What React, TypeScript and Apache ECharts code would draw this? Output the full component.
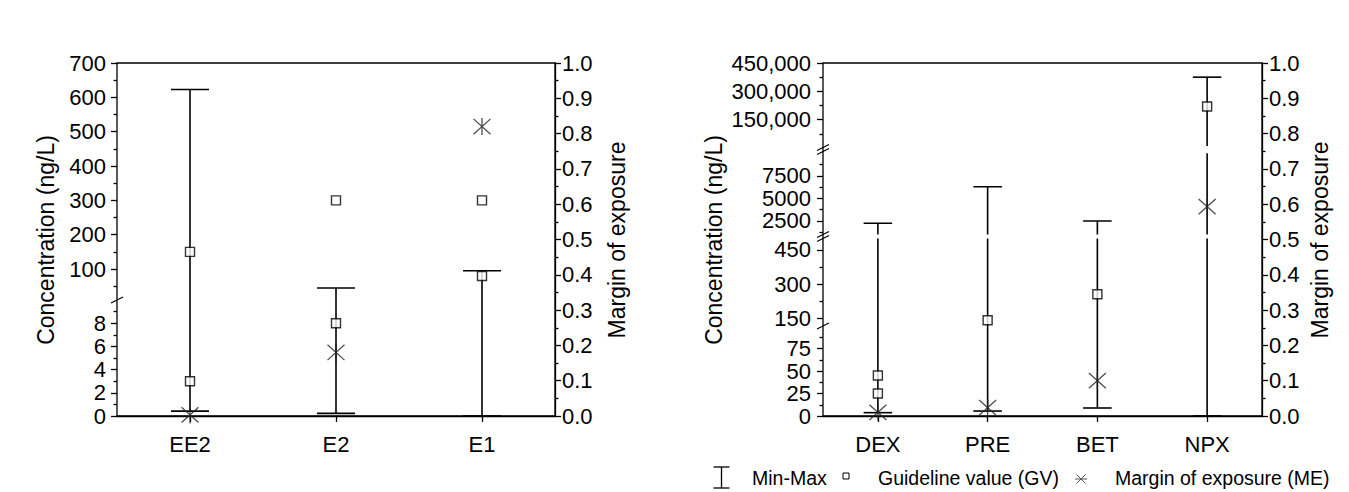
import React, { useEffect, useRef } from 'react';
import * as echarts from 'echarts';

// ---------- data ----------
const leftCategories = ['EE2', 'E2', 'E1'];
const leftMin = [0.42, 0.23, 0];
const leftMax = [623, 45, 95];
const leftGVCategory = [0, 0, 1, 1, 2, 2];
const leftGV = [150, 3, 300, 8, 300, 80];
const leftME = [0.003, 0.18, 0.82];

const rightCategories = ['DEX', 'PRE', 'BET', 'NPX'];
const rightMin = [3.7, 5.5, 8.9, 0];
const rightMax = [2250, 6300, 2500, 375000];
const rightGVCategory = [0, 0, 1, 2, 3];
const rightGV = [45, 25, 140, 255, 220000];
const rightME = [0.0105, 0.0235, 0.1, 0.593];

// broken-axis segments (value ranges and tick labels)
const leftUpperRange = [10, 700];
const leftUpperTicks = [100, 200, 300, 400, 500, 600, 700];
const leftUpperMinor = [50, 150, 250, 350, 450, 550, 650];
const leftLowerRange = [0, 10];
const leftLowerTicks = [0, 2, 4, 6, 8];
const leftLowerMinor = [1, 3, 5, 7, 9];

const rightSeg1Range = [10000, 450000];
const rightSeg1Ticks = [150000, 300000, 450000];
const rightSeg1Minor = [75000, 225000, 375000];
const rightSeg2Range = [1000, 10000];
const rightSeg2Ticks = [2500, 5000, 7500];
const rightSeg2Minor = [1250, 3750, 6250, 8750];
const rightSeg3Range = [115, 500];
const rightSeg3Ticks = [150, 300, 450];
const rightSeg3Minor = [225, 375];
const rightSeg4Range = [0, 100];
const rightSeg4Ticks = [0, 25, 50, 75];
const rightSeg4Minor = [12.5, 37.5, 62.5, 87.5];

const meRange = [0, 1];
const meInterval = 0.1;

// ---------- style / layout ----------
const FONT = '"Liberation Sans", Arial, sans-serif';
const LINE = { color: '#000', width: 1.3 };
const TOP = 63;
const BOTTOM = 416;
const ASTERISK = 'path://M10,0L10,20M1,1L19,19M1,19L19,1';

function buildOption() {
  const grid: any[] = [];
  const xAxis: any[] = [];
  const yAxis: any[] = [];
  const series: any[] = [];

  function addFull(left: number, width: number, cats: string[], me: number[], labelMargin: number) {
    const gi = grid.length;
    grid.push({
      left, top: TOP, width, height: BOTTOM - TOP, show: true,
      borderColor: '#000', borderWidth: 1.3, backgroundColor: 'transparent',
    });
    const xi = xAxis.length;
    xAxis.push({
      type: 'category', gridIndex: gi, data: cats, position: 'bottom', boundaryGap: true,
      axisLine: { show: true, lineStyle: LINE },
      axisTick: { show: true, alignWithLabel: true, length: 6, lineStyle: LINE },
      axisLabel: { color: '#000', fontFamily: FONT, fontSize: 22, margin: 17 },
      splitLine: { show: false },
    });
    const yi = yAxis.length;
    yAxis.push({
      type: 'value', gridIndex: gi, position: 'right', min: meRange[0], max: meRange[1], interval: meInterval,
      axisLine: { show: true, lineStyle: LINE },
      axisTick: { show: true, length: 6, lineStyle: LINE },
      minorTick: { show: true, splitNumber: 2, length: 3.5, lineStyle: LINE },
      axisLabel: {
        color: '#000', fontFamily: FONT, fontSize: 22, margin: labelMargin,
        formatter: (v: number) => v.toFixed(1),
      },
      splitLine: { show: false }, minorSplitLine: { show: false },
    });
    series.push({
      type: 'scatter', xAxisIndex: xi, yAxisIndex: yi,
      data: me.map((v, i) => [i, v]),
      symbol: ASTERISK, symbolSize: 17,
      itemStyle: { color: 'rgba(0,0,0,0)', borderColor: '#222', borderWidth: 1.3 },
      z: 6,
    });
  }

  function addSeg(
    left: number, width: number, top: number, height: number, cats: string[],
    range: number[], ticks: number[], minor: number[], fmt: (v: number) => string,
    mins: number[], maxs: number[], gvCats: number[], gvVals: number[], labelMargin: number,
  ) {
    const gi = grid.length;
    grid.push({ left, top, width, height });
    const xi = xAxis.length;
    xAxis.push({ type: 'category', gridIndex: gi, data: cats, show: false, boundaryGap: true });
    const yi = yAxis.length;
    yAxis.push({
      type: 'value', gridIndex: gi, position: 'left', min: range[0], max: range[1],
      axisLine: { show: false },
      axisTick: { show: true, length: 6, customValues: ticks, lineStyle: LINE },
      axisLabel: {
        show: true, customValues: ticks, formatter: fmt, margin: labelMargin,
        color: '#000', fontFamily: FONT, fontSize: 22,
      },
      splitLine: { show: false },
    });
    yAxis.push({
      type: 'value', gridIndex: gi, position: 'left', min: range[0], max: range[1],
      axisLine: { show: false },
      axisTick: { show: true, length: 3.5, customValues: minor, lineStyle: LINE },
      axisLabel: { show: false },
      splitLine: { show: false },
    });
    series.push({
      type: 'custom', xAxisIndex: xi, yAxisIndex: yi, clip: true, z: 3,
      data: cats.map((_, i) => [i, mins[i], maxs[i]]),
      renderItem: (params: any, api: any) => {
        const x = api.value(0);
        const lo = api.value(1);
        const hi = api.value(2);
        const pLo = api.coord([x, lo]);
        const pHi = api.coord([x, hi]);
        const half = api.size([1, 0])[0] * 0.13;
        const style = { stroke: '#000', lineWidth: 1.6 };
        const children: any[] = [
          { type: 'line', shape: { x1: pLo[0], y1: pLo[1], x2: pHi[0], y2: pHi[1] }, style },
        ];
        if (lo >= range[0] && lo <= range[1]) {
          children.push({ type: 'line', shape: { x1: pLo[0] - half, y1: pLo[1], x2: pLo[0] + half, y2: pLo[1] }, style });
        }
        if (hi >= range[0] && hi <= range[1]) {
          children.push({ type: 'line', shape: { x1: pHi[0] - half, y1: pHi[1], x2: pHi[0] + half, y2: pHi[1] }, style });
        }
        return { type: 'group', children };
      },
    });
    const gvData = gvVals
      .map((v, k) => [gvCats[k], v])
      .filter((d) => d[1] >= range[0] && d[1] <= range[1]);
    series.push({
      type: 'scatter', xAxisIndex: xi, yAxisIndex: yi, data: gvData,
      symbol: 'rect', symbolSize: 9,
      itemStyle: { color: '#fff', borderColor: '#000', borderWidth: 1.4 },
      z: 5,
    });
  }

  const plain = (v: number) => String(v);
  const thousands = (v: number) => v.toLocaleString('en-US');

  // left panel
  const LL = 117, LW = 438;
  addFull(LL, LW, leftCategories, leftME, 7);
  addSeg(LL, LW, TOP, 237, leftCategories, leftUpperRange, leftUpperTicks, leftUpperMinor, plain,
    leftMin, leftMax, leftGVCategory, leftGV, 11);
  addSeg(LL, LW, 300, 116, leftCategories, leftLowerRange, leftLowerTicks, leftLowerMinor, plain,
    leftMin, leftMax, leftGVCategory, leftGV, 11);

  // right panel
  const RL = 823, RW = 439;
  addFull(RL, RW, rightCategories, rightME, 7);
  addSeg(RL, RW, TOP, 83.1, rightCategories, rightSeg1Range, rightSeg1Ticks, rightSeg1Minor, thousands,
    rightMin, rightMax, rightGVCategory, rightGV, 12);
  addSeg(RL, RW, 153.3, 81.2, rightCategories, rightSeg2Range, rightSeg2Ticks, rightSeg2Minor, plain,
    rightMin, rightMax, rightGVCategory, rightGV, 12);
  addSeg(RL, RW, 238.6, 87.4, rightCategories, rightSeg3Range, rightSeg3Ticks, rightSeg3Minor, plain,
    rightMin, rightMax, rightGVCategory, rightGV, 12);
  addSeg(RL, RW, 326, 90, rightCategories, rightSeg4Range, rightSeg4Ticks, rightSeg4Minor, plain,
    rightMin, rightMax, rightGVCategory, rightGV, 12);

  const bs = { stroke: '#000', lineWidth: 1.2 };
  const slash = (cx: number, cy: number) => ({
    type: 'line', shape: { x1: cx - 6, y1: cy + 3, x2: cx + 6, y2: cy - 3 }, style: bs, z: 20,
  });
  const txt = (x: number, y: number, text: string, size: number, rotation = 0, align = 'left') => ({
    type: 'text', x, y, rotation, z: 20,
    style: {
      text, fill: '#000', fontFamily: FONT, fontSize: size,
      textAlign: align, textVerticalAlign: 'middle', verticalAlign: 'middle',
    },
  });
  const ls = { stroke: '#000', lineWidth: 1.3 };
  const graphic = [
    // axis-break marks
    slash(117, 300),
    slash(823, 147.5), slash(823, 151.5),
    slash(823, 234.5), slash(823, 238.5),
    slash(823, 326),
    // axis titles
    txt(45.5, 240, 'Concentration (ng/L)', 23, Math.PI / 2, 'center'),
    txt(616.5, 240, 'Margin of exposure', 23, Math.PI / 2, 'center'),
    txt(714, 240, 'Concentration (ng/L)', 23, Math.PI / 2, 'center'),
    txt(1320, 240, 'Margin of exposure', 23, Math.PI / 2, 'center'),
    // legend
    { type: 'line', shape: { x1: 721.5, y1: 467, x2: 721.5, y2: 488 }, style: ls },
    { type: 'line', shape: { x1: 713.5, y1: 467, x2: 729.5, y2: 467 }, style: ls },
    { type: 'line', shape: { x1: 713.5, y1: 488, x2: 729.5, y2: 488 }, style: ls },
    txt(752, 478, 'Min-Max', 19.5),
    { type: 'rect', shape: { x: 843, y: 473, width: 6, height: 6 }, style: { fill: '#fff', stroke: '#000', lineWidth: 1 } },
    txt(878, 478, 'Guideline value (GV)', 19.5),
    { type: 'line', shape: { x1: 1075, y1: 479, x2: 1087, y2: 479 }, style: { stroke: '#555', lineWidth: 1 } },
    { type: 'line', shape: { x1: 1076.5, y1: 474.5, x2: 1085.5, y2: 483.5 }, style: { stroke: '#555', lineWidth: 1 } },
    { type: 'line', shape: { x1: 1076.5, y1: 483.5, x2: 1085.5, y2: 474.5 }, style: { stroke: '#555', lineWidth: 1 } },
    txt(1115, 478, 'Margin of exposure (ME)', 19.5),
  ];

  return {
    animation: false,
    backgroundColor: '#fff',
    grid, xAxis, yAxis, series, graphic,
  };
}

export default function App() {
  const ref = useRef<HTMLDivElement>(null);
  useEffect(() => {
    if (!ref.current) return;
    const chart = echarts.init(ref.current, undefined, { renderer: 'svg' });
    chart.setOption(buildOption() as any);
    return () => chart.dispose();
  }, []);
  return (
    <div
      ref={ref}
      style={{ position: 'fixed', left: 0, top: 0, width: 1349, height: 492, background: '#fff' }}
    />
  );
}
